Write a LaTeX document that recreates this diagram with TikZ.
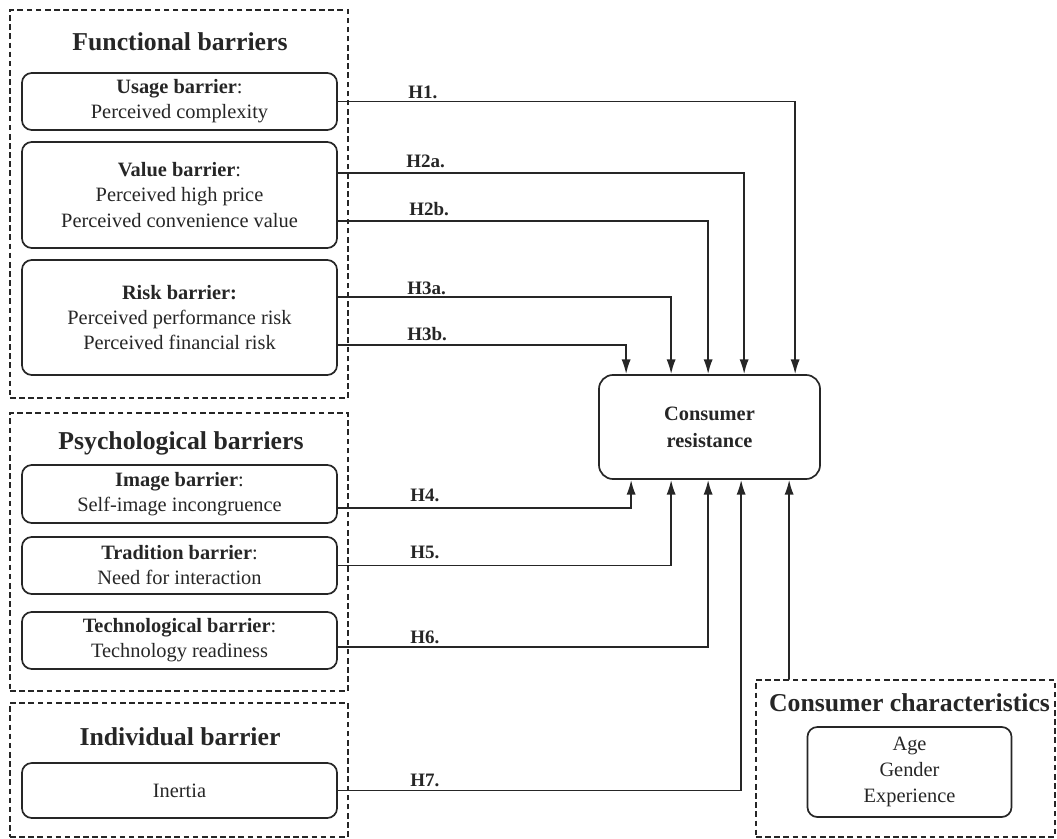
\documentclass[tikz,border=0pt]{standalone}
\usepackage{fontspec}
\setmainfont{Liberation Serif}
\usepackage{tikz}
\usetikzlibrary{arrows.meta, calc}
\definecolor{scanGray}{RGB}{38,38,38}

\tikzset{
  barrierbox/.style={draw=scanGray, line width=1.2pt, rounded corners=7pt, minimum width=7.875cm, align=center, inner sep=0pt},
  groupbox/.style={draw=scanGray, line width=1.1pt, dash pattern=on 4pt off 2.5pt, inner sep=0pt},
  grouptitle/.style={font=\fontsize{18.3}{22}\selectfont\bfseries},
  hlabel/.style={font=\fontsize{13.5}{16}\selectfont\bfseries, anchor=base west, inner sep=0pt},
  hyp/.style={draw=scanGray, line width=1.2pt, line cap=round, -{Latex[length=10.5pt, width=6.5pt]}},
}

\begin{document}
\begin{tikzpicture}[x=0.025cm, y=-0.025cm, font=\fontsize{14.5}{17.8}\selectfont, text=scanGray]
	\useasboundingbox (0,0) rectangle (1057,839);
	% groups
	\node[groupbox, minimum width=8.45cm, minimum height=9.7cm] (funcgroup) at (179,204) {};
	\node[groupbox, minimum width=8.45cm, minimum height=6.95cm] (psychgroup) at (179,552) {};
	\node[groupbox, minimum width=8.45cm, minimum height=3.35cm] (indivgroup) at (179,770) {};
	\node[groupbox, minimum width=7.475cm, minimum height=3.925cm] (ccgroup) at (905.5,758.5) {};
	\node[grouptitle] (functitle) at (180,42) {Functional barriers};
	\node[grouptitle] (psychtitle) at (181,443) {Psychological barriers};
	\node[grouptitle] (indivtitle) at (180,737) {Individual barrier};
	\node[grouptitle] (cctitle) at (909.5,703) {Consumer characteristics};
	% barriers
	\node[barrierbox, minimum height=1.425cm] (usage) at (179.5,101.5) {\textbf{Usage barrier}:\\Perceived complexity};
	\node[barrierbox, minimum height=2.65cm] (value) at (179.5,195) {\textbf{Value barrier}:\\Perceived high price\\Perceived convenience value};
	\node[barrierbox, minimum height=2.875cm] (risk) at (179.5,317.5) {\textbf{Risk barrier:}\\Perceived performance risk\\Perceived financial risk};
	\node[barrierbox, minimum height=1.45cm] (image) at (179.5,494) {\textbf{Image barrier}:\\Self-image incongruence};
	\node[barrierbox, minimum height=1.425cm] (tradition) at (179.5,565.5) {\textbf{Tradition barrier}:\\Need for interaction};
	\node[barrierbox, minimum height=1.425cm] (tech) at (179.5,640.5) {\textbf{Technological barrier}:\\Technology readiness};
	\node[barrierbox, minimum height=1.375cm] (inertia) at (179.5,790.5) {Inertia};
	\node[barrierbox, minimum width=5.525cm, minimum height=2.6cm, rounded corners=10pt, font=\fontsize{14.5}{19.2}\selectfont\bfseries] (res) at (709.5,427) {Consumer\\resistance};
	\node[barrierbox, minimum width=5.1cm, minimum height=2.25cm, font=\fontsize{14.5}{18.5}\selectfont] (chars) at (909.5,772) {Age\\Gender\\Experience};
	% hypotheses
	\draw[hyp] (usage.east) -| ($(res.north west)+(197,0)$);
	\draw[hyp] ($(value.east)+(0,-22.3)$) -| ($(res.north west)+(146,0)$);
	\draw[hyp] ($(value.east)+(0,26)$) -| ($(res.north west)+(110,0)$);
	\draw[hyp] ($(risk.east)+(0,-20.8)$) -| ($(res.north west)+(73,0)$);
	\draw[hyp] ($(risk.east)+(0,27.5)$) -| ($(res.north west)+(28,0)$);
	\draw[hyp] ($(image.east)+(0,13.7)$) -| ($(res.south west)+(33,0)$);
	\draw[hyp] (tradition.east) -| ($(res.south west)+(73,0)$);
	\draw[hyp] ($(tech.east)+(0,6.5)$) -| ($(res.south west)+(110,0)$);
	\draw[hyp] (inertia.east) -| ($(res.south west)+(143,0)$);
	\coordinate (ccin) at ($(res.south west)+(191,0)$);
	\draw[hyp] (ccin |- ccgroup.north) -- (ccin);
	\node[hlabel] (h1) at (408,98.3) {H1.};
	\node[hlabel] (h2a) at (406,167.3) {H2a.};
	\node[hlabel] (h2b) at (409,215.3) {H2b.};
	\node[hlabel] (h3a) at (407,294.3) {H3a.};
	\node[hlabel] (h3b) at (407,340.3) {H3b.};
	\node[hlabel] (h4) at (410,501.3) {H4.};
	\node[hlabel] (h5) at (410,558.3) {H5.};
	\node[hlabel] (h6) at (410,643.3) {H6.};
	\node[hlabel] (h7) at (410,786.3) {H7.};
\end{tikzpicture}
\end{document}
